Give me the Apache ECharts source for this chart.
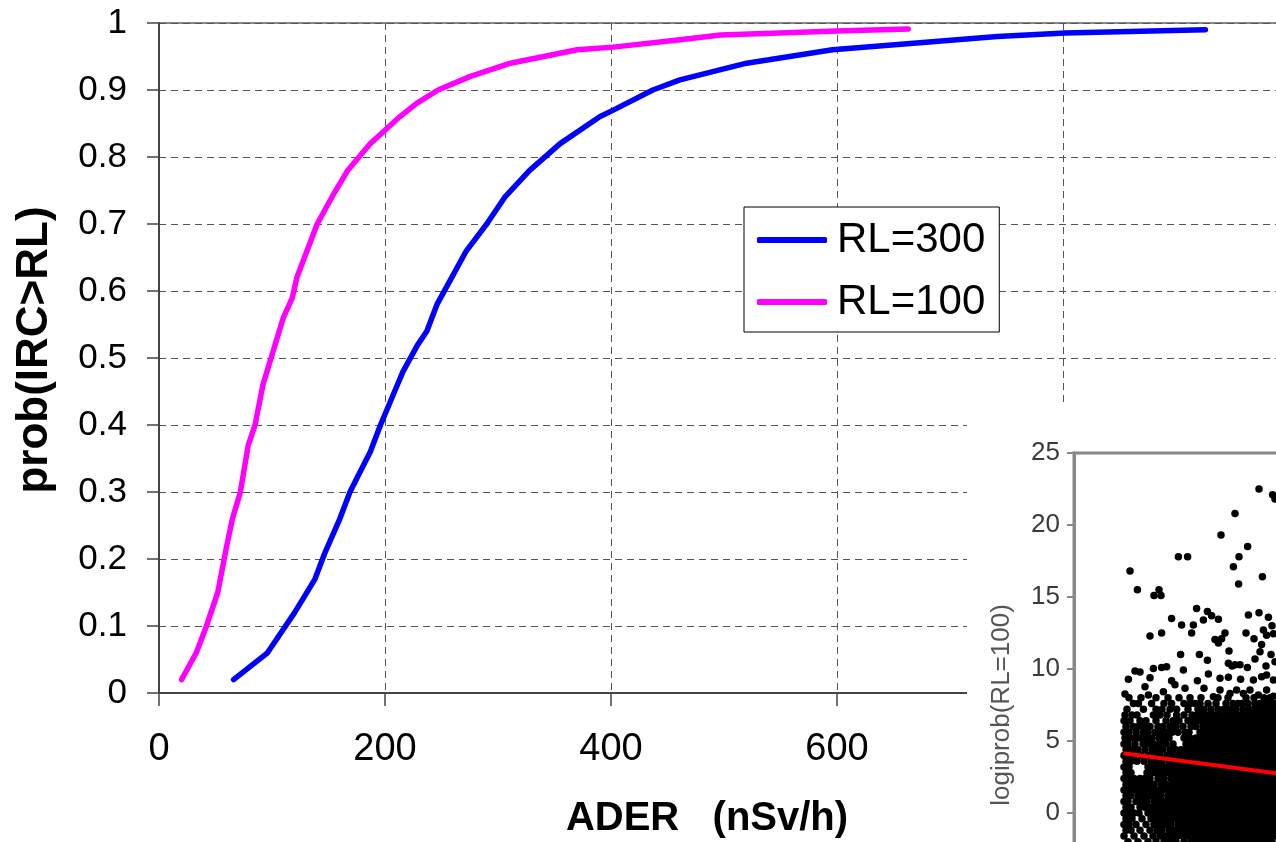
<!DOCTYPE html>
<html>
<head>
<meta charset="utf-8">
<script src="https://cdn.jsdelivr.net/npm/echarts/dist/echarts.min.js"></script>
<style>
html,body{margin:0;padding:0;background:#fff;}
#chart{width:1276px;height:842px;}
</style>
</head>
<body>
<div id="chart"></div>
<script>
// ---- main chart data: ADER (nSv/h) vs prob(IRC>RL) ----
const ader300 = [66, 96, 120, 138, 147, 160, 169, 175, 187, 196, 211, 216, 229, 237, 246, 259, 272, 290, 306, 328, 355, 390, 402, 437, 461, 520, 596, 742, 802, 926];
const prob300 = [0.02, 0.06, 0.12, 0.17, 0.21, 0.26, 0.30, 0.32, 0.36, 0.40, 0.46, 0.48, 0.52, 0.54, 0.58, 0.62, 0.66, 0.70, 0.74, 0.78, 0.82, 0.86, 0.87, 0.90, 0.915, 0.94, 0.96, 0.98, 0.985, 0.99];
const ader100 = [20, 33, 42, 52, 60, 65, 72, 74, 79, 85, 92, 101, 110, 118, 122, 131, 140, 153, 167, 187, 200, 213, 228, 247, 275, 311, 370, 402, 461, 497, 600, 663];
const prob100 = [0.02, 0.06, 0.10, 0.15, 0.22, 0.26, 0.30, 0.32, 0.37, 0.40, 0.46, 0.51, 0.56, 0.59, 0.62, 0.66, 0.70, 0.74, 0.78, 0.82, 0.84, 0.86, 0.88, 0.90, 0.92, 0.94, 0.96, 0.964, 0.975, 0.982, 0.988, 0.991];
const seriesNames = ['RL=300', 'RL=100'];

// ---- inset scatter: logiprob(RL=100) ----
const insetSparse = [
  [92.5,22.5],[99.3,22.1],[100.5,21.8],[80.5,20.8],[73.5,19.3],[86.8,18.5],[52.2,17.8],[56.8,17.8],[82.5,17.8],
  [79.7,17.1],[94.2,16.4],[82.3,15.9],[28,16.8],[31.7,15.5],[42.5,15.5],[40,15.1],[43.5,15.1],
  [61.3,14.2],[66.7,14.0],[68.8,13.7],[72.2,13.45],[87.2,13.75],[92.5,13.9],[97.2,13.6],[48.8,13.5],[53.8,13.05],
  [59.7,13.05],[64.7,13.4],[58.8,12.5],[38,12.3],[43.8,12.5],[75.5,12.5],[73.8,12.1],[70.5,12.05],[72.2,11.8],
  [86,12.5],[90,12.1],[94.7,12.7],[96.3,12.35],[99.7,12.45],[99,13.0],[93.8,11.7],[93,11.2],[90.5,10.7],[77.5,11.25],
  [53.3,11.0],[62.7,11.0],[66.7,10.6],[77.2,10.4],[80.5,10.3],[83,10.3],[86.7,10.1],[79,10.2],[98.5,11.0],[100.5,10.5],[96,10.2],
  [54.7,9.93],[39.7,10.03],[43.8,10.1],[46.3,10.15],[30.5,9.86],[33,9.8],[27.2,9.28],[38,9.4],[35.5,8.77],
  [44.7,8.42],[48.8,9.19],[50.5,8.9],[55.5,8.66],[61.7,9.19],[65,8.66],[67.2,9.65],[73,9.35],[77.2,9.42],
  [83.3,9.28],[89.7,9.24],[93.8,9.47],[96.3,9.58],[99.7,9.24],[25.5,8.26],[37.2,8.2],[69.7,8.08],
  [73,8.54],[78,8.3],[81.3,8.54],[84.7,8.3],[88,8.54],[92.2,8.2],[96.3,8.54],[99.7,8.1]
];
const insetDenseRows = [
  [8.0, [27.5, 33.5, 41, 47, 52.5, 58, 63.5, 72, 77, 86, 90, 95, 98]],
  [7.6, [29.7, 32.2, 38.8, 45, 48.8, 55, 58, 60.5, 63, 67, 71, 76, 79.5, 82, 84, 87, 90.5, 93, 96, 99, 101]],
  [7.2, [26.5, 34.7, 41, 44, 48, 51.3, 57, 62, 65, 68.5, 72, 75, 78, 81, 84.5, 87.5, 90, 92.5, 95, 97.5, 100]],
  [6.8, [25.5, 29, 31.5, 39.7, 43, 46.5, 51.3, 55, 59, 61.5, 64, 67, 70, 72.5, 75.5, 78, 80.5, 83, 85.5, 88, 90.5, 93, 95.5, 98, 100.5]],
  [6.4, [25, 28, 33, 36, 41, 46, 49.5, 52.5, 57, 60, 63, 66, 68.5, 71, 73.5, 76, 78.5, 81, 83.5, 86, 88.5, 91, 93.5, 96, 98.5, 101]],
  [6.0, [26, 29.5, 32, 35, 38, 42, 44.5, 48, 51, 54.5, 58.5, 61, 64.5, 67, 69.5, 72, 74.5, 77, 79.5, 82, 84.5, 87, 89.5, 92, 94.5, 97, 99.5]],
  [5.6, [25, 27.5, 31, 34.5, 37, 40.5, 43, 46, 49, 52, 55.5, 57.5, 63, 65, 68, 70.5, 73, 75.5, 78, 80.5, 83, 85.5, 88, 90.5, 93, 95.5, 98, 100.5]],
  [5.2, [25.5, 28.5, 31, 33, 36, 39, 42.5, 44.5, 47.5, 55, 58, 61, 63.5, 66, 68.5, 71, 73.5, 76, 78.5, 81, 83.5, 86, 88.5, 91, 93.5, 96, 98.5, 101]],
  [4.8, [25, 27, 30.5, 34.5, 37.5, 40, 43, 46, 49.5, 56, 57.5, 60, 62.5, 65, 67.5, 70, 72.5, 75, 77.5, 80, 82.5, 85, 87.5, 90, 92.5, 95, 97.5, 100]],
  [4.4, [26, 29, 32, 35.5, 39, 41.5, 44.5, 48, 51, 53.5, 56, 58.5, 61, 63.5, 66, 68.5, 71, 73.5, 76, 78.5, 81, 83.5, 86, 88.5, 91, 93.5, 96, 98.5, 101]],
  [4.0, [25, 27.5, 30, 33.5, 37, 40, 43, 46.5, 49, 52, 54.5, 57, 59.5, 62, 64.5, 67, 69.5, 72, 74.5, 77, 79.5, 82, 84.5, 87, 89.5, 92, 94.5, 97, 99.5]],
  [3.6, [26, 28.5, 31.5, 35, 38.5, 41.5, 44, 47.5, 50.5, 53, 55.5, 58, 60.5, 63, 65.5, 68, 70.5, 73, 75.5, 78, 80.5, 83, 85.5, 88, 90.5, 93, 95.5, 98, 100.5]],
  [3.2, [25, 27.5, 37, 40, 42.5, 45.5, 48.5, 51.5, 54, 56.5, 59, 61.5, 64, 66.5, 69, 71.5, 74, 76.5, 79, 81.5, 84, 86.5, 89, 91.5, 94, 96.5, 99, 101]],
  [2.8, [26, 28.5, 36.5, 39, 41, 44, 47, 50, 52.5, 55, 57.5, 60, 62.5, 65, 67.5, 70, 72.5, 75, 77.5, 80, 82.5, 85, 87.5, 90, 92.5, 95, 97.5, 100]],
  [2.4, [25, 27.5, 30, 33, 35.5, 38, 42, 45, 48.5, 51, 53.5, 56, 58.5, 61, 63.5, 66, 68.5, 71, 73.5, 76, 78.5, 81, 83.5, 86, 88.5, 91, 93.5, 96, 98.5, 101]],
  [2.0, [26, 29, 31.5, 34.5, 37.5, 40, 43.5, 46, 49, 52, 54.5, 57, 59.5, 62, 64.5, 67, 69.5, 72, 74.5, 77, 79.5, 82, 84.5, 87, 89.5, 92, 94.5, 97, 99.5]],
  [1.6, [25, 27.5, 30.5, 33, 36, 39, 41.5, 44.5, 47.5, 50.5, 53, 55.5, 58, 60.5, 63, 65.5, 68, 70.5, 73, 75.5, 78, 80.5, 83, 85.5, 88, 90.5, 93, 95.5, 98, 100.5]],
  [1.2, [26, 28.5, 32, 35, 38, 41, 43.5, 47, 49.5, 52, 54.5, 57, 59.5, 62, 64.5, 67, 69.5, 72, 74.5, 77, 79.5, 82, 84.5, 87, 89.5, 92, 94.5, 97, 99.5]],
  [0.8, [25, 27, 31, 34, 36.5, 40, 42.5, 45.5, 48.5, 51, 53.5, 56, 58.5, 61, 63.5, 66, 68.5, 71, 73.5, 76, 78.5, 81, 83.5, 86, 88.5, 91, 93.5, 96, 98.5, 101]],
  [0.4, [26, 28.5, 33, 35.5, 38.5, 41.5, 44, 47, 50, 52.5, 55, 57.5, 60, 62.5, 65, 67.5, 70, 72.5, 75, 77.5, 80, 82.5, 85, 87.5, 90, 92.5, 95, 97.5, 100]],
  [0.0, [25, 27.5, 30, 32.5, 37, 40, 43, 46, 49, 51.5, 54, 56.5, 59, 61.5, 64, 66.5, 69, 71.5, 74, 76.5, 79, 81.5, 84, 86.5, 89, 91.5, 94, 96.5, 99, 101]],
  [-0.4, [26, 29, 34, 38.5, 41.5, 44.5, 47.5, 50, 53, 55.5, 58, 60.5, 63, 65.5, 68, 70.5, 73, 75.5, 78, 80.5, 83, 85.5, 88, 90.5, 93, 95.5, 98, 100.5]],
  [-0.8, [25, 27.5, 31, 36, 40, 43, 46, 48.5, 52, 54.5, 57, 59.5, 62, 64.5, 67, 69.5, 72, 74.5, 77, 79.5, 82, 84.5, 87, 89.5, 92, 94.5, 97, 99.5]],
  [-1.2, [26, 28.5, 33, 38, 41.5, 44, 47.5, 50.5, 53, 56, 58.5, 61, 63.5, 66, 68.5, 71, 73.5, 76, 78.5, 81, 83.5, 86, 88.5, 91, 93.5, 96, 98.5, 101]],
  [-1.6, [25, 30, 35, 39.5, 43, 46, 49, 52, 54.5, 57, 60, 62.5, 65, 67.5, 70, 72.5, 75, 77.5, 80, 82.5, 85, 87.5, 90, 92.5, 95, 97.5, 100]],
  [-2.0, [27, 32, 37, 41, 45, 48, 51, 55, 58.5, 61, 64, 66.5, 69, 71.5, 74, 76.5, 79, 81.5, 84, 86.5, 89, 91.5, 94, 96.5, 99]],
  [-2.4, [26, 34, 40, 44, 49, 53, 57, 60, 63, 66, 69, 72, 75, 78, 81, 84, 87, 90, 93, 96, 99]]
];
const insetFitX = [24.7, 110];
const insetFitY = [4.15, 2.6];

// ---- build ----
const pairs = (xs, ys) => xs.map((x, i) => [x, ys[i]]);
const insetPoints = insetSparse.slice();
insetDenseRows.forEach(([y, xs]) => xs.forEach(x => insetPoints.push([x, y])));

const chart = echarts.init(document.getElementById('chart'), null, {renderer: 'canvas'});
const FONT = '"Liberation Sans", Arial, sans-serif';
const dashed = {show: true, lineStyle: {color: '#555', width: 1, type: [7, 5]}};

chart.setOption({
  backgroundColor: '#fff',
  animation: false,
  textStyle: {fontFamily: FONT},
  grid: [
    {left: 159, top: 23, right: -13, bottom: 149, show: true, borderColor: '#888', borderWidth: 2, backgroundColor: 'transparent', containLabel: false, outerBoundsMode: 'none'},
    {left: 1074, top: 453, right: -198, bottom: -115, show: true, borderColor: '#888', borderWidth: 3, backgroundColor: 'transparent', z: 3, containLabel: false, outerBoundsMode: 'none'}
  ],
  graphic: {
    elements: [
      {type: 'rect', z: 1, silent: true, shape: {x: 967, y: 405, width: 320, height: 450}, style: {fill: '#fff'}}
    ]
  },
  legend: {
    data: seriesNames,
    orient: 'vertical',
    left: 744,
    top: 207,
    icon: 'roundRect',
    itemWidth: 70,
    itemHeight: 6,
    itemGap: 18,
    padding: [11, 14, 8, 13],
    backgroundColor: '#fff',
    borderColor: '#000',
    borderWidth: 1,
    textStyle: {fontSize: 42, lineHeight: 44, color: '#000', fontFamily: FONT, padding: [0, 0, 0, 5]}
  },
  xAxis: [
    {
      gridIndex: 0, type: 'value', min: 0, max: 1000, interval: 200,
      name: 'ADER   (nSv/h)', nameLocation: 'middle', nameGap: 106,
      nameTextStyle: {fontSize: 40, fontWeight: 'bold', color: '#000', fontFamily: FONT, padding: [0, 34, 0, 0]},
      axisLine: {show: true, onZero: false, lineStyle: {color: '#444', width: 2}},
      axisTick: {show: true, length: 13, lineStyle: {color: '#444', width: 1.5}},
      axisLabel: {fontSize: 38, color: '#000', margin: 38, fontFamily: FONT},
      splitLine: dashed
    },
    {
      gridIndex: 1, type: 'value', min: 0, max: 200, show: false,
      splitLine: {show: false}
    }
  ],
  yAxis: [
    {
      gridIndex: 0, type: 'value', min: 0, max: 1, interval: 0.1,
      name: 'prob(IRC>RL)', nameLocation: 'middle', nameGap: 102,
      nameTextStyle: {fontSize: 44, fontWeight: 'bold', color: '#000', fontFamily: FONT, padding: [0, 0, 0, 16]},
      axisLine: {show: true, onZero: false, lineStyle: {color: '#444', width: 2}},
      axisTick: {show: true, length: 12, lineStyle: {color: '#444', width: 1.5}},
      axisLabel: {fontSize: 35, color: '#000', margin: 32, fontFamily: FONT},
      splitLine: dashed
    },
    {
      gridIndex: 1, type: 'value', min: -10, max: 25, interval: 5, z: 5,
      name: 'logiprob(RL=100)', nameLocation: 'middle', nameGap: 59,
      nameTextStyle: {fontSize: 26, color: '#555', fontFamily: FONT},
      axisLine: {show: true, onZero: false, lineStyle: {color: '#888', width: 3}},
      axisTick: {show: true, length: 7, lineStyle: {color: '#888', width: 2}},
      axisLabel: {fontSize: 26, color: '#3a3a3a', margin: 14, fontFamily: FONT},
      splitLine: {show: false}
    }
  ],
  series: [
    {
      name: 'RL=300', type: 'line', xAxisIndex: 0, yAxisIndex: 0,
      data: pairs(ader300, prob300), symbol: 'none', showSymbol: false, smooth: false,
      lineStyle: {color: '#0000ff', width: 5.5, cap: 'round', join: 'round'},
      itemStyle: {color: '#0000ff'}, z: 2
    },
    {
      name: 'RL=100', type: 'line', xAxisIndex: 0, yAxisIndex: 0,
      data: pairs(ader100, prob100), symbol: 'none', showSymbol: false, smooth: false,
      lineStyle: {color: '#ff00ff', width: 5.5, cap: 'round', join: 'round'},
      itemStyle: {color: '#ff00ff'}, z: 2
    },
    {
      name: 'inset', type: 'scatter', xAxisIndex: 1, yAxisIndex: 1,
      data: insetPoints, symbol: 'circle', symbolSize: 7.5,
      itemStyle: {color: '#000', opacity: 1}, z: 6, clip: true, large: false
    },
    {
      name: 'insetFit', type: 'line', xAxisIndex: 1, yAxisIndex: 1,
      data: pairs(insetFitX, insetFitY), symbol: 'none', showSymbol: false,
      lineStyle: {color: '#ff0000', width: 4}, z: 7
    }
  ]
});
</script>
</body>
</html>
